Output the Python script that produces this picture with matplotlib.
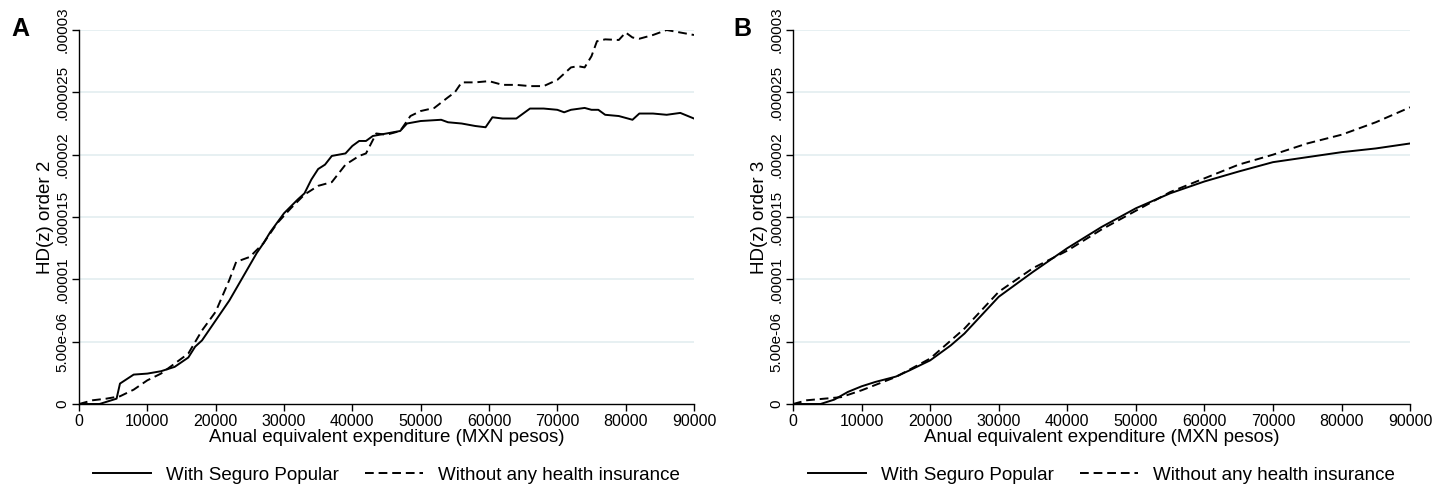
import matplotlib
matplotlib.use("Agg")
import matplotlib.pyplot as plt
from matplotlib.ticker import FixedLocator

plt.rcParams['font.family'] = ['Liberation Sans', 'DejaVu Sans']

# ---- Panel A: HD(z) order 2 (values in 1e-6)
a_sp_x = [0, 3000, 5500, 6000, 8000, 10000, 12000, 14000, 16000, 17000, 18000,
          20000, 22000, 24000, 26000, 27000, 28000, 30000, 32000, 33000, 34000,
          35000, 36000, 37000, 39000, 40000, 41000, 42000, 43000, 45000, 47000,
          48000, 50000, 53000, 54000, 56000, 58000, 59500, 60500, 62000, 64000,
          66000, 68000, 70000, 71000, 72000, 74000, 75000, 76000, 77000, 79000,
          81000, 82000, 84000, 86000, 88000, 90000]
a_sp_y = [0, 0, 0.43, 1.64, 2.36, 2.44, 2.63, 2.98, 3.73, 4.6, 5.1,
          6.7, 8.3, 10.2, 12.1, 12.9, 13.8, 15.3, 16.4, 16.9, 18.0,
          18.85, 19.2, 19.9, 20.1, 20.7, 21.1, 21.1, 21.5, 21.7, 21.9,
          22.5, 22.7, 22.8, 22.6, 22.5, 22.3, 22.2, 23.0, 22.9, 22.9,
          23.7, 23.7, 23.6, 23.4, 23.6, 23.75, 23.6, 23.6, 23.2, 23.1,
          22.8, 23.3, 23.3, 23.2, 23.35, 22.9]

a_no_x = [0, 2000, 4000, 6000, 8000, 10000, 12000, 14000, 16000, 18000, 20000,
          22000, 23000, 25000, 27000, 29000, 31000, 33000, 35000, 37000, 39000,
          41000, 42000, 43500, 45000, 47000, 48500, 50000, 52000, 54000, 55000,
          56000, 58000, 60000, 62000, 64000, 66000, 68000, 70000, 72000, 73000,
          74000, 75000, 75800, 77000, 79000, 80000, 81000, 82000, 84000, 86000,
          88000, 90000]
a_no_y = [0, 0.3, 0.43, 0.62, 1.15, 1.9, 2.44, 3.24, 4.05, 5.9, 7.4,
          9.95, 11.4, 11.8, 12.9, 14.5, 15.7, 16.8, 17.5, 17.8, 19.2,
          19.9, 20.1, 21.7, 21.6, 21.9, 23.1, 23.5, 23.75, 24.6, 25.0,
          25.8, 25.8, 25.9, 25.6, 25.6, 25.5, 25.5, 26.0, 27.0, 27.1,
          27.0, 27.9, 29.1, 29.25, 29.2, 29.8, 29.4, 29.3, 29.6, 30.0,
          29.8, 29.6]

# ---- Panel B: HD(z) order 3 (values in 1e-6)
b_sp_x = [0, 4000, 6000, 8000, 10000, 12000, 15000, 17000, 20000, 23000, 25000,
          30000, 35000, 40000, 45000, 50000, 55000, 60000, 65000, 70000, 75000,
          80000, 85000, 90000]
b_sp_y = [0, 0, 0.35, 0.97, 1.42, 1.77, 2.2, 2.7, 3.5, 4.7, 5.65,
          8.6, 10.6, 12.5, 14.2, 15.7, 16.9, 17.85, 18.65, 19.4, 19.8,
          20.2, 20.5, 20.9]

b_no_x = [0, 2000, 5000, 7000, 10000, 15000, 20000, 25000, 30000, 35000, 40000,
          45000, 50000, 55000, 60000, 65000, 70000, 75000, 80000, 85000, 90000]
b_no_y = [0, 0.3, 0.45, 0.55, 1.1, 2.17, 3.65, 6.05, 9.0, 10.9, 12.3,
          14.0, 15.5, 17.0, 18.1, 19.2, 20.0, 20.9, 21.6, 22.6, 23.8]

x_ticks = [0, 10000, 20000, 30000, 40000, 50000, 60000, 70000, 80000, 90000]
y_ticks = [0, 5e-6, 1e-5, 1.5e-5, 2e-5, 2.5e-5, 3e-5]
y_tick_labels = ['0', '5.00e-06', '.00001', '.000015', '.00002', '.000025', '.00003']

fig = plt.figure(figsize=(14.44, 4.88), dpi=100)
ax_a = fig.add_axes([0.0547, 0.1721, 0.4259, 0.7664])
ax_b = fig.add_axes([0.5492, 0.1721, 0.4273, 0.7664])


def panel(ax, sx, sy, nx, ny, ylab, letter, letter_x):
    ax.plot(sx, [v * 1e-6 for v in sy], color='black', lw=1.4,
            label='With Seguro Popular')
    ax.plot(nx, [v * 1e-6 for v in ny], color='black', lw=1.4,
            dashes=(4.5, 2.5), label='Without any health insurance')
    ax.set_xlim(0, 90000)
    ax.set_ylim(0, 3e-5)
    ax.xaxis.set_major_locator(FixedLocator(x_ticks))
    ax.set_xticklabels([str(t) for t in x_ticks], fontsize=11.5)
    ax.set_yticks(y_ticks)
    ax.set_yticklabels(y_tick_labels, rotation=90, va='center', fontsize=11)
    for t in y_ticks[1:]:
        ax.axhline(t, color='#e3eef0', lw=1.2, zorder=0)
    for s in ['top', 'right']:
        ax.spines[s].set_visible(False)
    ax.spines['left'].set_linewidth(1.0)
    ax.spines['bottom'].set_linewidth(1.0)
    ax.tick_params(axis='both', length=5, width=1.0, pad=2)
    ax.set_xlabel('Anual equivalent expenditure (MXN pesos)', fontsize=13.5, labelpad=0)
    ax.set_ylabel(ylab, fontsize=13.5, labelpad=1)
    ax.legend(loc='center', bbox_to_anchor=(0.5, -0.19), ncol=2,
              frameon=False, fontsize=13.5, handlelength=3.1, columnspacing=1.4,
              handletextpad=0.8)
    fig.text(letter_x, 0.94, letter, fontsize=18, fontweight='bold',
             ha='left', va='center')


panel(ax_a, a_sp_x, a_sp_y, a_no_x, a_no_y, 'HD(z) order 2', 'A', 0.008)
panel(ax_b, b_sp_x, b_sp_y, b_no_x, b_no_y, 'HD(z) order 3', 'B', 0.508)

fig.savefig('out.png', dpi=100)
